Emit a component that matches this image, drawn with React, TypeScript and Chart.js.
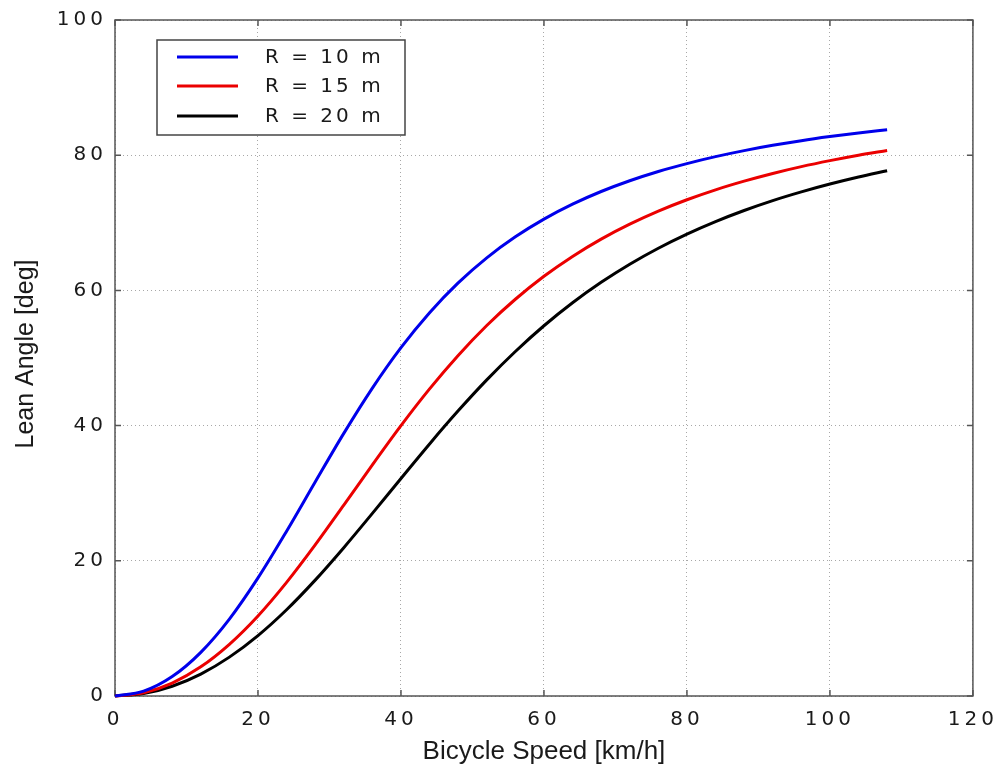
import React, { useEffect, useRef } from "react";
import { Chart, registerables } from "chart.js";

Chart.register(...registerables);

// Bicycle speed [km/h]
const speeds = [0, 4, 8, 12, 16, 20, 24, 28, 32, 36, 40, 44, 48, 52, 56, 60, 64, 68, 72, 76, 80, 84, 88, 92, 96, 100, 104, 108];

// Lean angle [deg] for each turn radius
const lean10 = [0, 0.72, 2.88, 6.46, 11.38, 17.47, 24.38, 31.66, 38.85, 45.55, 51.53, 56.7, 61.11, 64.82, 67.93, 70.55, 72.76, 74.63, 76.22, 77.59, 78.76, 79.79, 80.68, 81.46, 82.15, 82.75, 83.29, 83.78];
const lean15 = [0, 0.48, 1.92, 4.32, 7.65, 11.84, 16.81, 22.35, 28.23, 34.2, 40.0, 45.43, 50.38, 54.81, 58.69, 62.09, 65.03, 67.59, 69.8, 71.73, 73.41, 74.88, 76.16, 77.3, 78.31, 79.2, 80.0, 80.71];
const lean20 = [0, 0.36, 1.44, 3.24, 5.75, 8.94, 12.76, 17.14, 21.94, 27.01, 32.18, 37.29, 42.18, 46.76, 50.96, 54.77, 58.17, 61.19, 63.87, 66.24, 68.33, 70.18, 71.82, 73.28, 74.57, 75.73, 76.77, 77.7];

const seriesLabels = ["R = 10 m", "R = 15 m", "R = 20 m"];
const seriesColors = ["rgb(0,0,235)", "rgb(235,0,0)", "rgb(0,0,0)"];

const xTicks = [0, 20, 40, 60, 80, 100, 120];
const yTicks = [0, 20, 40, 60, 80, 100];

const xTitle = "Bicycle Speed [km/h]";
const yTitle = "Lean Angle [deg]";

const frameColor = "#555555";
const textColor = "#1a1a1a";

const framePlugin = {
  id: "matlabFrame",
  beforeDraw(chart: any) {
    (chart.ctx as any).letterSpacing = "4px";
  },
  beforeDatasetsDraw(chart: any) {
    const { ctx, chartArea: a, scales } = chart;
    ctx.save();
    ctx.strokeStyle = frameColor;
    ctx.lineWidth = 1.5;
    ctx.setLineDash([]);
    ctx.strokeRect(a.left, a.top, a.right - a.left, a.bottom - a.top);
    const tl = 6;
    ctx.beginPath();
    xTicks.forEach((v) => {
      const px = scales.x.getPixelForValue(v);
      ctx.moveTo(px, a.bottom);
      ctx.lineTo(px, a.bottom - tl);
      ctx.moveTo(px, a.top);
      ctx.lineTo(px, a.top + tl);
    });
    yTicks.forEach((v) => {
      const py = scales.y.getPixelForValue(v);
      ctx.moveTo(a.left, py);
      ctx.lineTo(a.left + tl, py);
      ctx.moveTo(a.right, py);
      ctx.lineTo(a.right - tl, py);
    });
    ctx.stroke();
    ctx.restore();
  },
  afterDraw(chart: any) {
    const { ctx, chartArea: a } = chart;
    ctx.save();
    (ctx as any).letterSpacing = "0px";
    ctx.fillStyle = textColor;
    // axis titles
    ctx.font = "26px 'Liberation Sans', Arial, sans-serif";
    ctx.textAlign = "center";
    ctx.textBaseline = "alphabetic";
    ctx.fillText(xTitle, (a.left + a.right) / 2, chart.height - 8);
    ctx.save();
    ctx.translate(33, (a.top + a.bottom) / 2 - 4);
    ctx.rotate(-Math.PI / 2);
    ctx.font = "25px 'Liberation Sans', Arial, sans-serif";
    ctx.fillText(yTitle, 0, 0);
    ctx.restore();

    // legend box
    const bx = a.left + 42;
    const by = a.top + 20;
    const bw = 248;
    const bh = 95;
    ctx.fillStyle = "#ffffff";
    ctx.fillRect(bx, by, bw, bh);
    ctx.strokeStyle = "#444444";
    ctx.lineWidth = 1.5;
    ctx.strokeRect(bx, by, bw, bh);
    const rows = [17, 46, 76];
    chart.data.datasets.forEach((ds: any, i: number) => {
      const y = by + rows[i];
      ctx.strokeStyle = ds.borderColor;
      ctx.lineWidth = 3;
      ctx.beginPath();
      ctx.moveTo(bx + 20, y);
      ctx.lineTo(bx + 81, y);
      ctx.stroke();
      ctx.fillStyle = textColor;
      ctx.font = "20px 'DejaVu Sans', sans-serif";
      (ctx as any).letterSpacing = "3px";
      ctx.textAlign = "left";
      ctx.textBaseline = "middle";
      ctx.fillText(ds.label, bx + 108, y + 1);
    });
    ctx.restore();
  },
};

export default function App() {
  const canvasRef = useRef<HTMLCanvasElement | null>(null);

  useEffect(() => {
    document.body.style.margin = "0";
    const canvas = canvasRef.current;
    if (!canvas) return;
    const series = [lean10, lean15, lean20];
    const chart = new Chart(canvas, {
      type: "line",
      data: {
        datasets: series.map((vals, i) => ({
          label: seriesLabels[i],
          data: speeds.map((s, j) => ({ x: s, y: vals[j] })),
          borderColor: seriesColors[i],
          backgroundColor: seriesColors[i],
          borderWidth: 3,
          pointRadius: 0,
          fill: false,
          cubicInterpolationMode: "monotone",
          clip: 4,
        })),
      },
      options: {
        responsive: false,
        animation: false,
        devicePixelRatio: 1,
        layout: { padding: { left: 0, right: 31, top: 20, bottom: 0 } },
        plugins: {
          legend: { display: false },
          tooltip: { enabled: false },
          title: { display: false },
        },
        scales: {
          x: {
            type: "linear",
            min: 0,
            max: 120,
            afterBuildTicks: (scale: any) => {
              scale.ticks = xTicks.map((v) => ({ value: v }));
            },
            afterFit: (scale: any) => {
              scale.height = 71;
            },
            ticks: {
              padding: 12,
              color: textColor,
              maxRotation: 0,
              font: { family: "'DejaVu Sans', sans-serif", size: 20 },
            },
            grid: { color: "#a8a8a8", lineWidth: 1, drawTicks: false },
            border: { display: false, dash: [1, 3] },
          },
          y: {
            type: "linear",
            min: 0,
            max: 100,
            afterBuildTicks: (scale: any) => {
              scale.ticks = yTicks.map((v) => ({ value: v }));
            },
            afterFit: (scale: any) => {
              scale.width = 115;
            },
            ticks: {
              padding: 8,
              color: textColor,
              font: { family: "'DejaVu Sans', sans-serif", size: 20 },
            },
            grid: { color: "#a8a8a8", lineWidth: 1, drawTicks: false },
            border: { display: false, dash: [1, 3] },
          },
        },
      },
      plugins: [framePlugin],
    } as any);
    return () => chart.destroy();
  }, []);

  return (
    <div style={{ width: 1004, height: 767, background: "#ffffff" }}>
      <canvas ref={canvasRef} width={1004} height={767} style={{ display: "block" }} />
    </div>
  );
}
